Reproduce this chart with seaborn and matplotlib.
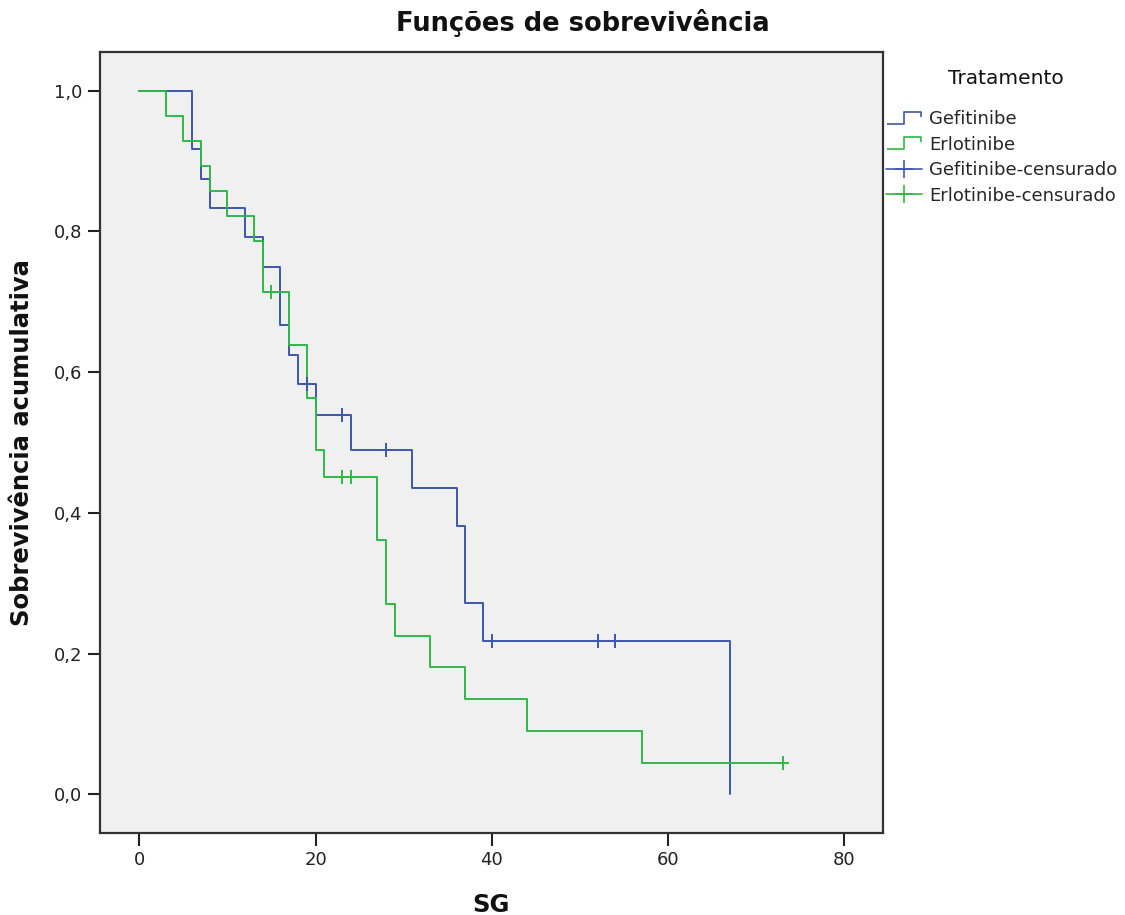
import numpy as np
import pandas as pd
import matplotlib
matplotlib.use("Agg")
import matplotlib.pyplot as plt
import seaborn as sns
from matplotlib.path import Path
from matplotlib.lines import Line2D

# ---------------- data ----------------
groups = ["Gefitinibe", "Erlotinibe"]
colors = ["#3E58AC", "#2EB848"]

gef_time = [6, 6, 7, 8, 12, 14, 16, 16, 17, 18, 19, 20, 23, 24, 28, 31, 36, 37, 37, 39, 40, 52, 54, 67]
gef_event = [1, 1, 1, 1, 1, 1, 1, 1, 1, 1, 0, 1, 0, 1, 0, 1, 1, 1, 1, 1, 0, 0, 0, 1]

erl_time = [3, 5, 7, 8, 10, 13, 14, 14, 15, 17, 17, 19, 19, 20, 20, 21, 23, 24, 27, 27, 28, 28, 29, 33, 37, 44, 57, 73]
erl_event = [1, 1, 1, 1, 1, 1, 1, 1, 0, 1, 1, 1, 1, 1, 1, 1, 0, 0, 1, 1, 1, 1, 1, 1, 1, 1, 1, 0]

x_ticks = [0, 20, 40, 60, 80]
y_ticks = [0.0, 0.2, 0.4, 0.6, 0.8, 1.0]
y_ticklabels = ["0,0", "0,2", "0,4", "0,6", "0,8", "1,0"]

title = "Funções de sobrevivência"
xlabel = "SG"
ylabel = "Sobrevivência acumulativa"
legend_title = "Tratamento"


def kaplan_meier(times, events):
    t = np.asarray(times, dtype=float)
    e = np.asarray(events, dtype=int)
    s = 1.0
    st, ss, ct, cs = [0.0], [1.0], [], []
    for ut in np.unique(t):
        n = np.sum(t >= ut)
        d = np.sum((t == ut) & (e == 1))
        if d > 0:
            s *= (n - d) / n
            st.append(ut)
            ss.append(s)
        c = np.sum((t == ut) & (e == 0))
        for _ in range(c):
            ct.append(ut)
            cs.append(s)
    if t.max() > st[-1]:
        st.append(t.max())
        ss.append(s)
    return st, ss, ct, cs


curve_rows, cens_rows = [], []
for g, tt, ee in [(groups[0], gef_time, gef_event), (groups[1], erl_time, erl_event)]:
    st, ss, ct, cs = kaplan_meier(tt, ee)
    curve_rows += [{"group": g, "time": a, "surv": b} for a, b in zip(st, ss)]
    cens_rows += [{"group": g, "time": a, "surv": b} for a, b in zip(ct, cs)]
curves = pd.DataFrame(curve_rows)
cens = pd.DataFrame(cens_rows)

# ---------------- style ----------------
sns.set_theme(style="ticks")
plt.rcParams["font.family"] = ["DejaVu Sans"]

W, H = 1125, 915
fig = plt.figure(figsize=(W / 100, H / 100), dpi=100)
fig.patch.set_facecolor("white")
ax = fig.add_axes([100 / W, 1 - 833 / H, 783 / W, 781 / H])
ax.set_facecolor("#F0F0F0")

pal = dict(zip(groups, colors))
sns.lineplot(data=curves, x="time", y="surv", hue="group", hue_order=groups,
             palette=pal, estimator=None, sort=False, drawstyle="steps-post",
             linewidth=1.4, legend=False, ax=ax)
sns.scatterplot(data=cens, x="time", y="surv", hue="group", hue_order=groups,
                palette=pal, marker="+", s=100, linewidth=1.4, legend=False,
                ax=ax, zorder=3)

ax.set_xlim(-4.46, 84.4)
ax.set_ylim(-0.055, 1.055)
ax.set_xticks(x_ticks)
ax.set_xticklabels([str(v) for v in x_ticks])
ax.set_yticks(y_ticks)
ax.set_yticklabels(y_ticklabels)
ax.tick_params(axis="both", direction="out", length=9, width=1.5,
               labelsize=13, colors="#222222", pad=4)
for sp in ax.spines.values():
    sp.set_visible(True)
    sp.set_color("#333333")
    sp.set_linewidth(1.6)
ax.set_xlabel("")
ax.set_ylabel("")

fig.text(583 / W, 1 - 31 / H, title, ha="center", va="baseline",
         fontsize=18.5, fontweight="bold", color="#111111")
fig.text(491 / W, 1 - 905 / H, xlabel, ha="center", va="center",
         fontsize=17.5, fontweight="bold", color="#111111")
fig.text(22 / W, 1 - 443 / H, ylabel, ha="center", va="center", rotation=90,
         fontsize=17.5, fontweight="bold", color="#111111")

# ---------------- legend ----------------
step_path = Path([(-1, -0.34), (0, -0.34), (0, 0.34), (1, 0.34), (1, 0.05)])
handles = [
    Line2D([], [], linestyle="none", marker=step_path, markersize=25,
           markerfacecolor="none", markeredgecolor=colors[0], markeredgewidth=1.2),
    Line2D([], [], linestyle="none", marker=step_path, markersize=25,
           markerfacecolor="none", markeredgecolor=colors[1], markeredgewidth=1.2),
    Line2D([], [], color=colors[0], linewidth=1.2, marker="+", markersize=13,
           markeredgewidth=1.2),
    Line2D([], [], color=colors[1], linewidth=1.2, marker="+", markersize=13,
           markeredgewidth=1.2),
]
labels = [groups[0], groups[1], groups[0] + "-censurado", groups[1] + "-censurado"]
fig.legend(handles, labels, loc="upper left", bbox_to_anchor=(886 / W, 1 - 110 / H),
           frameon=False, fontsize=13, numpoints=1, handlelength=2.0,
           handletextpad=0.4, labelspacing=0.42, borderpad=0, borderaxespad=0)
fig.text(1006 / W, 1 - 78 / H, legend_title, ha="center", va="center",
         fontsize=14.5, color="#111111")

fig.savefig("out.png", dpi=100, facecolor="white")
